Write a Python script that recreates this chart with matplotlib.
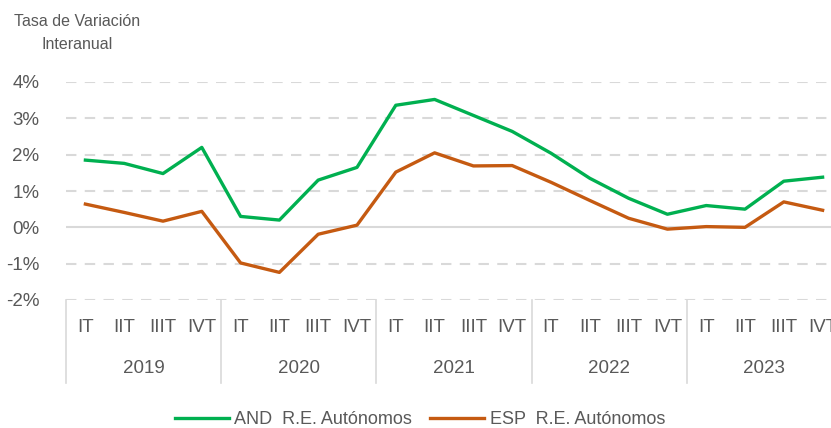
import matplotlib.pyplot as plt
from matplotlib import transforms

plt.rcParams['font.family'] = ['Liberation Sans Narrow', 'Liberation Sans', 'DejaVu Sans']

years = ['2019', '2020', '2021', '2022', '2023']
quarters = ['IT', 'IIT', 'IIIT', 'IVT']

# tasa de variacion interanual (%)
and_autonomos = [1.85, 1.76, 1.48, 2.20,
                 0.30, 0.20, 1.30, 1.65,
                 3.36, 3.52, 3.08, 2.64,
                 2.04, 1.35, 0.80, 0.36,
                 0.60, 0.50, 1.27, 1.38]
esp_autonomos = [0.64, 0.41, 0.17, 0.44,
                 -0.98, -1.24, -0.19, 0.06,
                 1.52, 2.05, 1.69, 1.70,
                 1.24, 0.74, 0.25, -0.05,
                 0.02, 0.00, 0.70, 0.47]

gray = '#595959'
grid = '#D9D9D9'

fig = plt.figure(figsize=(8.31, 4.28), dpi=100)
ax = fig.add_axes([66 / 831, 1 - 300 / 428, 776 / 831, 218 / 428])

x = list(range(len(and_autonomos)))
ax.plot(x, and_autonomos, color='#00B050', lw=2.4, label='AND  R.E. Autónomos')
ax.plot(x, esp_autonomos, color='#C55A11', lw=2.4, label='ESP  R.E. Autónomos')

ax.set_xlim(-0.5, len(x) - 0.5)
ax.set_ylim(-2, 4)
yt = [-2, -1, 0, 1, 2, 3, 4]
ax.set_yticks(yt)
ax.set_yticklabels([f'{v}%' for v in yt])
for v in yt:
    if v == 0:
        ax.axhline(v, color=grid, lw=1.5, zorder=0)
    else:
        ax.axhline(v, color=grid, lw=1.5, ls=(0, (5, 4)), zorder=0)

ax.set_xticks(x)
ax.set_xticklabels(quarters * len(years))
ax.tick_params(axis='x', length=0, pad=14, labelsize=13.5, labelcolor=gray)
ax.tick_params(axis='y', length=0, pad=19, labelsize=13.5, labelcolor=gray)
for s in ax.spines.values():
    s.set_visible(False)

trans = transforms.blended_transform_factory(ax.transData, ax.transAxes)
for i, yr in enumerate(years):
    ax.text(i * 4 + 1.5, -0.315, yr, transform=trans, ha='center', va='center',
            fontsize=13.5, color=gray)
for i in range(len(years) + 1):
    ax.plot([i * 4 - 0.5, i * 4 - 0.5], [0, -0.383], transform=trans,
            color=grid, lw=1.2, clip_on=False)

fig.text(77 / 831, 1 - 33 / 428, 'Tasa de Variación\nInteranual', ha='center', va='center',
         fontsize=11.5, color=gray, linespacing=1.6)

ax.legend(loc='center', bbox_to_anchor=(420 / 831, 1 - 420 / 428), bbox_transform=fig.transFigure,
          ncol=2, frameon=False, fontsize=13, handlelength=3.0, handletextpad=0.3,
          columnspacing=1.0, labelcolor=gray)

fig.savefig('out.png', dpi=100)
